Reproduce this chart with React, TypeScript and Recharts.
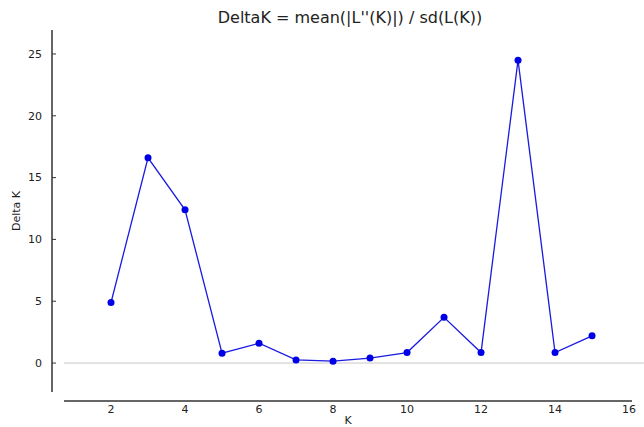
import React from "react";
import { LineChart, Line, XAxis, YAxis, ReferenceLine } from "recharts";

const kValues = [2, 3, 4, 5, 6, 7, 8, 9, 10, 11, 12, 13, 14, 15];
const deltaK = [4.9, 16.6, 12.4, 0.8, 1.6, 0.25, 0.15, 0.4, 0.85, 3.7, 0.85, 24.5, 0.85, 2.2];
const xTicks = [2, 4, 6, 8, 10, 12, 14, 16];
const yTicks = [0, 5, 10, 15, 20, 25];

const data = kValues.map((k, i) => ({ k, d: deltaK[i] }));

const X_DOMAIN: [number, number] = [0.405, 16.08];
const Y_DOMAIN: [number, number] = [-3.07, 26.94];
const FONT = "'DejaVu Sans', sans-serif";

const YTick = (props: any) => {
  const { x, y, payload } = props;
  return (
    <g>
      <line x1={x + 10} x2={x + 14} y1={y} y2={y} stroke="#333" strokeWidth={1} />
      <text x={x} y={y} dy="0.35em" textAnchor="end" fontSize={11} fill="#222" fontFamily={FONT}>
        {payload.value}
      </text>
    </g>
  );
};

export default function App() {
  return (
    <div style={{ position: "absolute", left: 0, top: 0, background: "#fff" }}>
      <LineChart
        width={644}
        height={427}
        data={data}
        margin={{ top: 30, right: 12, bottom: 0, left: 12 }}
      >
        <text x={350} y={23} textAnchor="middle" fontSize={16} fill="#222" fontFamily={FONT}>
          DeltaK = mean(|L''(K)|) / sd(L(K))
        </text>
        <text
          x={20}
          y={211}
          textAnchor="middle"
          fontSize={11}
          fill="#222"
          fontFamily={FONT}
          transform="rotate(-90 20 211)"
        >
          Delta K
        </text>
        <text x={348} y={424} textAnchor="middle" fontSize={11} fill="#222" fontFamily={FONT}>
          K
        </text>
        <XAxis
          dataKey="k"
          type="number"
          domain={X_DOMAIN}
          allowDataOverflow
          ticks={xTicks}
          axisLine={false}
          tickLine={false}
          tickSize={0}
          tickMargin={4}
          height={26}
          tick={{ fontSize: 11, fill: "#222", fontFamily: FONT }}
        />
        <YAxis
          type="number"
          domain={Y_DOMAIN}
          allowDataOverflow
          ticks={yTicks}
          axisLine={false}
          tickLine={false}
          tickSize={0}
          tickMargin={10}
          width={40}
          tick={<YTick />}
        />
        <ReferenceLine
          segment={[{ x: 0.73, y: 0 }, { x: 16.4, y: 0 }]}
          stroke="#c8c8c8"
          strokeWidth={1}
          ifOverflow="visible"
        />
        <ReferenceLine
          segment={[{ x: 0.73, y: -3.07 }, { x: 16.08, y: -3.07 }]}
          stroke="#333"
          strokeWidth={1.5}
          ifOverflow="visible"
        />
        <ReferenceLine
          segment={[{ x: 0.405, y: -2.35 }, { x: 0.405, y: 26.94 }]}
          stroke="#333"
          strokeWidth={1.5}
          ifOverflow="visible"
        />
        <Line
          dataKey="d"
          stroke="#1a1ae0"
          strokeWidth={1.3}
          dot={{ r: 3.5, fill: "#0000e6", stroke: "#0000e6", strokeWidth: 0 }}
          isAnimationActive={false}
        />
      </LineChart>
    </div>
  );
}
